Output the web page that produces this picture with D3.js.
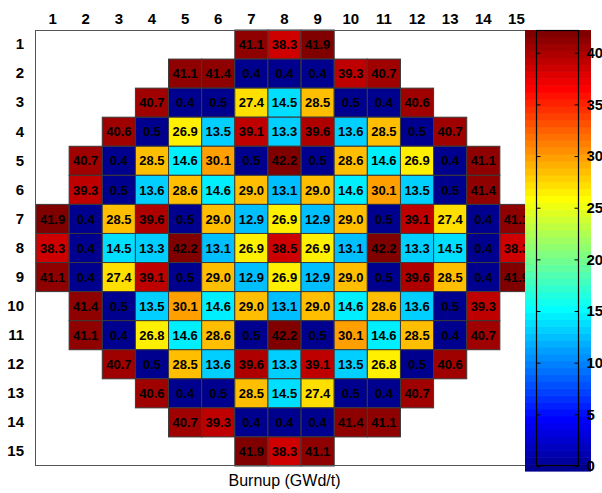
<!DOCTYPE html>
<html>
<head>
<meta charset="utf-8">
<script src="https://cdn.jsdelivr.net/npm/d3@7"></script>
<style>
  html, body { margin: 0; padding: 0; background: #fff; }
  svg { display: block; font-family: "Liberation Sans", Arial, sans-serif; }
</style>
</head>
<body>
<svg id="chart" width="602" height="493"></svg>
<script>
// Core positions 1..15 (rows and columns of the assembly map)
const rowIds = d3.range(1, 16);
const colIds = d3.range(1, 16);

// Burnup per assembly (GWd/t); each row lists its first occupied column and values
const row1  = { start: 7, values: [41.1, 38.3, 41.9] };
const row2  = { start: 5, values: [41.1, 41.4, 0.4, 0.4, 0.4, 39.3, 40.7] };
const row3  = { start: 4, values: [40.7, 0.4, 0.5, 27.4, 14.5, 28.5, 0.5, 0.4, 40.6] };
const row4  = { start: 3, values: [40.6, 0.5, 26.9, 13.5, 39.1, 13.3, 39.6, 13.6, 28.5, 0.5, 40.7] };
const row5  = { start: 2, values: [40.7, 0.4, 28.5, 14.6, 30.1, 0.5, 42.2, 0.5, 28.6, 14.6, 26.9, 0.4, 41.1] };
const row6  = { start: 2, values: [39.3, 0.5, 13.6, 28.6, 14.6, 29.0, 13.1, 29.0, 14.6, 30.1, 13.5, 0.5, 41.4] };
const row7  = { start: 1, values: [41.9, 0.4, 28.5, 39.6, 0.5, 29.0, 12.9, 26.9, 12.9, 29.0, 0.5, 39.1, 27.4, 0.4, 41.1] };
const row8  = { start: 1, values: [38.3, 0.4, 14.5, 13.3, 42.2, 13.1, 26.9, 38.5, 26.9, 13.1, 42.2, 13.3, 14.5, 0.4, 38.3] };
const row9  = { start: 1, values: [41.1, 0.4, 27.4, 39.1, 0.5, 29.0, 12.9, 26.9, 12.9, 29.0, 0.5, 39.6, 28.5, 0.4, 41.9] };
const row10 = { start: 2, values: [41.4, 0.5, 13.5, 30.1, 14.6, 29.0, 13.1, 29.0, 14.6, 28.6, 13.6, 0.5, 39.3] };
const row11 = { start: 2, values: [41.1, 0.4, 26.8, 14.6, 28.6, 0.5, 42.2, 0.5, 30.1, 14.6, 28.5, 0.4, 40.7] };
const row12 = { start: 3, values: [40.7, 0.5, 28.5, 13.6, 39.6, 13.3, 39.1, 13.5, 26.8, 0.5, 40.6] };
const row13 = { start: 4, values: [40.6, 0.4, 0.5, 28.5, 14.5, 27.4, 0.5, 0.4, 40.7] };
const row14 = { start: 5, values: [40.7, 39.3, 0.4, 0.4, 0.4, 41.4, 41.1] };
const row15 = { start: 7, values: [41.9, 38.3, 41.1] };

const coreRows = [row1, row2, row3, row4, row5, row6, row7, row8,
                  row9, row10, row11, row12, row13, row14, row15];

// Colour bar range and tick labels
const colorMin = 0;
const colorMax = 42.2;
const colorTicks = [0, 5, 10, 15, 20, 25, 30, 35, 40];
const titleText = "Burnup (GWd/t)";

// Flatten into cell records
const cells = [];
coreRows.forEach((r, i) => {
  r.values.forEach((v, j) => cells.push({ row: rowIds[i], col: r.start + j, value: v }));
});

// MATLAB-style jet colormap with 64 levels
function jetMap(m) {
  const n = Math.ceil(m / 4);
  const u = [];
  for (let i = 1; i <= n; i++) u.push(i / n);
  for (let i = 1; i < n; i++) u.push(1);
  for (let i = n; i >= 1; i--) u.push(i / n);
  const g0 = Math.ceil(n / 2) - (m % 4 === 1 ? 1 : 0);
  const J = d3.range(m).map(() => [0, 0, 0]);
  u.forEach((val, k) => {
    const gi = g0 + k;        // zero-based
    const ri = gi + n;
    const bi = gi - n;
    if (ri >= 0 && ri < m) J[ri][0] = val;
    if (gi >= 0 && gi < m) J[gi][1] = val;
    if (bi >= 0 && bi < m) J[bi][2] = val;
  });
  return J.map(c => d3.rgb(c[0] * 255, c[1] * 255, c[2] * 255).toString());
}
const jet = jetMap(64);
const levelScale = d3.scaleQuantize().domain([colorMin, colorMax]).range(d3.range(64));
const color = v => jet[levelScale(v)];

const svg = d3.select("#chart");

// Layout
const plot = { left: 36, top: 30, right: 533, bottom: 466 };
const x = d3.scaleBand().domain(colIds).range([plot.left, plot.right]).padding(0);
const y = d3.scaleBand().domain(rowIds).range([plot.top, plot.bottom]).padding(0);

// Plot background
svg.append("rect")
  .attr("x", plot.left).attr("y", plot.top)
  .attr("width", plot.right - plot.left).attr("height", plot.bottom - plot.top)
  .attr("fill", "#fff");

// Assembly cells
const cellG = svg.append("g");
cellG.selectAll("rect").data(cells).join("rect")
  .attr("x", d => x(d.col))
  .attr("y", d => y(d.row))
  .attr("width", x.bandwidth())
  .attr("height", y.bandwidth())
  .attr("fill", d => color(d.value))
  .attr("stroke", "#3a3a3a")
  .attr("stroke-width", 1);

cellG.selectAll("text").data(cells).join("text")
  .attr("x", d => x(d.col) + x.bandwidth() / 2)
  .attr("y", d => y(d.row) + y.bandwidth() / 2)
  .attr("dy", "0.36em")
  .attr("text-anchor", "middle")
  .attr("font-size", 13)
  .attr("font-weight", "bold")
  .attr("fill", "#000")
  .text(d => d.value.toFixed(1));

// Axes frame
svg.append("rect")
  .attr("x", plot.left - 0.5).attr("y", plot.top + 0.5)
  .attr("width", plot.right - plot.left).attr("height", plot.bottom - plot.top - 1)
  .attr("fill", "none")
  .attr("stroke", "#555")
  .attr("stroke-width", 1);

// Column labels (top) and row labels (left)
const topAxis = svg.append("g")
  .attr("transform", `translate(0,${plot.top})`)
  .call(d3.axisTop(x).tickSize(0).tickPadding(6));
const leftAxis = svg.append("g")
  .attr("transform", `translate(${plot.left},0)`)
  .call(d3.axisLeft(y).tickSize(0).tickPadding(12));
[topAxis, leftAxis].forEach(a => {
  a.select(".domain").remove();
  a.selectAll("text")
    .attr("font-size", 15)
    .attr("font-weight", "bold")
    .attr("font-family", "'Liberation Sans', Arial, sans-serif")
    .attr("fill", "#000");
});

// Title below the map
svg.append("text")
  .attr("x", (plot.left + plot.right) / 2)
  .attr("y", 486)
  .attr("text-anchor", "middle")
  .attr("font-size", 16)
  .attr("fill", "#000")
  .text(titleText);

// Colour bar
const cb = { left: 536, right: 579, top: 30, bottom: 466, imgLeft: 525, imgRight: 591, imgBottom: 471 };
const bandY = d3.scaleLinear().domain([0, 64]).range([cb.imgBottom, cb.top]);
svg.append("g").selectAll("rect").data(d3.range(64)).join("rect")
  .attr("x", cb.imgLeft)
  .attr("width", cb.imgRight - cb.imgLeft)
  .attr("y", i => bandY(i + 1))
  .attr("height", i => bandY(i) - bandY(i + 1) + 0.6)
  .attr("fill", i => jet[i]);

const cbScale = d3.scaleLinear().domain([colorMin, colorMax]).range([cb.bottom, cb.top]);
svg.append("rect")
  .attr("x", cb.left + 0.5).attr("y", cb.top + 0.5)
  .attr("width", cb.right - cb.left - 1).attr("height", cb.bottom - cb.top - 1)
  .attr("fill", "none").attr("stroke", "#000").attr("stroke-width", 1.2);

const cbRight = svg.append("g")
  .attr("transform", `translate(${cb.right - 0.5},0)`)
  .call(d3.axisRight(cbScale).tickValues(colorTicks).tickFormat(d3.format("d"))
        .tickSizeInner(-4).tickSizeOuter(0).tickPadding(8));
const cbLeft = svg.append("g")
  .attr("transform", `translate(${cb.left + 0.5},0)`)
  .call(d3.axisLeft(cbScale).tickValues(colorTicks).tickFormat("")
        .tickSizeInner(-4).tickSizeOuter(0));
[cbRight, cbLeft].forEach(a => {
  a.select(".domain").remove();
  a.selectAll("line").attr("stroke", "#000");
});
cbRight.selectAll("text")
  .attr("font-size", 15)
  .attr("font-weight", "bold")
  .attr("font-family", "'Liberation Sans', Arial, sans-serif")
  .attr("fill", "#000");
</script>
</body>
</html>
